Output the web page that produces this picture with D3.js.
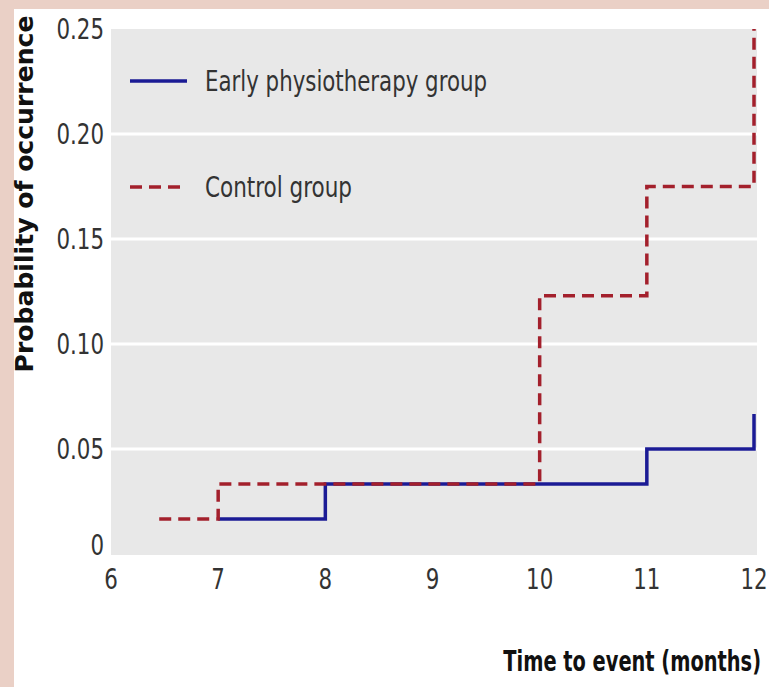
<!DOCTYPE html>
<html>
<head>
<meta charset="utf-8">
<script src="https://cdn.jsdelivr.net/npm/d3@7"></script>
<style>
  body { margin: 0; background: #ead0c6; }
  text { font-family: "DejaVu Sans Condensed", sans-serif; fill: #222; }
</style>
</head>
<body>
<svg id="chart" width="769" height="687"></svg>
<script>
// data
const monthTicks = [6, 7, 8, 9, 10, 11, 12]
const probTicks = [0, 0.05, 0.10, 0.15, 0.20, 0.25]
const probLabels = ["0", "0.05", "0.10", "0.15", "0.20", "0.25"]

const earlyTimes = [7, 8, 11, 12]
const earlyProb = [0.0167, 0.0333, 0.05, 0.0667]

const controlTimes = [6.45, 7, 10, 11, 12]
const controlProb = [0.0167, 0.0333, 0.123, 0.175, 0.25]

const series = [
  { name: "Early physiotherapy group", times: earlyTimes, probs: earlyProb, color: "#1b1b95", dash: null, len: 282 },
  { name: "Control group", times: controlTimes, probs: controlProb, color: "#a3202c", dash: "12,7", len: 147 }
]

let svg = d3.select("#chart")

// white card on the pink page
svg.append("rect")
  .attr("x", 14).attr("y", 9)
  .attr("width", 769 - 14).attr("height", 687 - 9)
  .attr("fill", "white")

let x = d3.scaleLinear().domain([6, 12]).range([111, 754])
let y = d3.scaleLinear().domain([0, 0.25]).range([554, 29])

// grey plot area
svg.append("rect")
  .attr("x", x(6)).attr("y", y(0.25))
  .attr("width", x(12) + 3 - x(6)).attr("height", y(0) + 1 - y(0.25))
  .attr("fill", "#e8e8e8")

// white gridlines
svg.append("g")
  .selectAll("line")
  .data(probTicks.filter(d => d > 0 && d < 0.25))
  .enter().append("line")
  .attr("x1", x(6)).attr("x2", x(12) + 3)
  .attr("y1", d => y(d)).attr("y2", d => y(d))
  .attr("stroke", "white")
  .attr("stroke-width", 3)

// y tick labels (squeezed to look condensed)
svg.append("g")
  .selectAll("text")
  .data(probTicks)
  .enter().append("text")
  .attr("transform", d => "translate(104," + (d == 0 ? y(d) - 9 : y(d)) + ") scale(0.82,1)")
  .attr("dy", "0.35em")
  .attr("text-anchor", "end")
  .style("font-size", "29px")
  .style("fill", "#333")
  .text((d, i) => probLabels[i])

// x tick labels
svg.append("g")
  .selectAll("text")
  .data(monthTicks)
  .enter().append("text")
  .attr("transform", d => "translate(" + x(d) + ",579) scale(0.82,1)")
  .attr("dy", "0.35em")
  .attr("text-anchor", "middle")
  .style("font-size", "29px")
  .style("fill", "#333")
  .text(d => d)

// step curves
let line = d3.line()
  .x(d => x(d[0]))
  .y(d => y(d[1]))
  .curve(d3.curveStepAfter)

svg.append("g")
  .selectAll("path")
  .data(series)
  .enter().append("path")
  .attr("d", d => line(d3.zip(d.times, d.probs)))
  .attr("fill", "none")
  .attr("stroke", d => d.color)
  .attr("stroke-width", 3.5)
  .attr("stroke-dasharray", d => d.dash)

// legend
let legend = svg.append("g")
  .selectAll("g")
  .data(series)
  .enter().append("g")
  .attr("transform", (d, i) => "translate(130," + (81 + i * 106) + ")")
legend.append("line")
  .attr("x1", 0).attr("x2", 57)
  .attr("stroke", d => d.color)
  .attr("stroke-width", 3.5)
  .attr("stroke-dasharray", d => d.dash)
legend.append("text")
  .attr("x", 75)
  .attr("dy", "0.35em")
  .attr("textLength", d => d.len)
  .attr("lengthAdjust", "spacingAndGlyphs")
  .style("font-size", "28px")
  .style("fill", "#333")
  .text(d => d.name)

// axis titles
svg.append("text")
  .attr("transform", "translate(25,194) rotate(-90)")
  .attr("text-anchor", "middle")
  .attr("dy", "0.35em")
  .attr("textLength", 357)
  .attr("lengthAdjust", "spacingAndGlyphs")
  .style("font-family", "'DejaVu Sans', sans-serif")
  .style("font-weight", "bold")
  .style("font-size", "24px")
  .style("fill", "#111")
  .text("Probability of occurrence")

svg.append("text")
  .attr("transform", "translate(761,671) scale(0.77,1)")
  .attr("text-anchor", "end")
  .style("font-weight", "bold")
  .style("font-size", "28px")
  .style("fill", "#111")
  .text("Time to event (months)")
</script>
</body>
</html>
